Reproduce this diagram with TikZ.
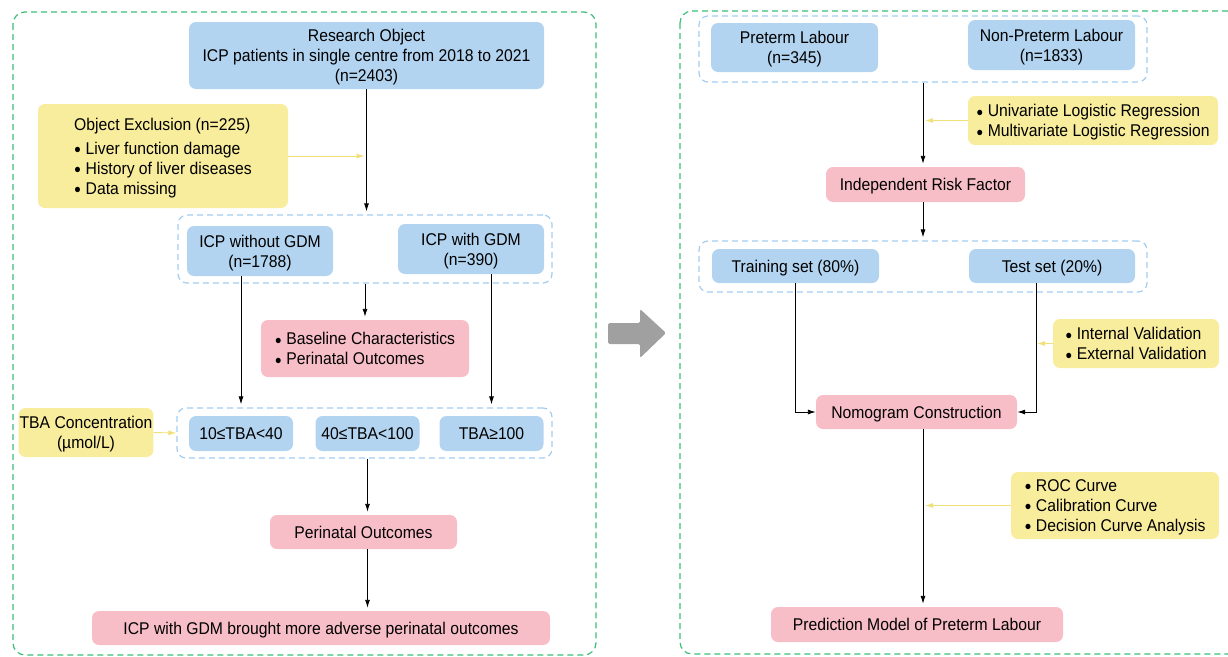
\documentclass[tikz,border=0pt]{standalone}
\usepackage{fontspec}
\setmainfont{Liberation Sans}[FakeStretch=0.925]
\usetikzlibrary{arrows.meta}

\definecolor{fillblue}{RGB}{178,212,240}
\definecolor{fillpink}{RGB}{248,190,200}
\definecolor{fillyellow}{RGB}{248,236,157}
\definecolor{framegreen}{RGB}{60,190,120}
\definecolor{groupblue}{RGB}{165,205,240}
\definecolor{notearrow}{RGB}{240,224,120}
\definecolor{bigarrow}{RGB}{160,160,160}

\newcommand{\itm}{\raisebox{0.5pt}{\fontsize{12.5}{12}\selectfont ●}\hspace{4.5pt}}

\begin{document}
\begin{tikzpicture}[x=1pt,y=-1pt,
  box/.style={rounded corners=7pt, inner sep=2pt, align=center, text=black,
    text depth=0pt, font=\fontsize{17}{20}\selectfont},
  bluebox/.style={box, fill=fillblue},
  pinkbox/.style={box, fill=fillpink},
  yellowbox/.style={box, fill=fillyellow},
  group/.style={draw=groupblue, line width=1.2pt, dash pattern=on 6pt off 4pt,
    rounded corners=9pt, inner sep=0pt},
  frame/.style={draw=framegreen, line width=1.2pt, dash pattern=on 6pt off 4pt,
    rounded corners=12pt},
  link/.style={-{Latex[length=8pt,width=5pt]}, line width=0.9pt, shorten >=3pt},
  note/.style={-{Latex[length=8pt,width=5pt]}, line width=0.9pt, draw=notearrow}]
\useasboundingbox (0,0) rectangle (1228,656);

\draw[frame] (13,12) rectangle (596,655);
\draw[frame] (680,11) rectangle (1240,654);
\fill[bigarrow, rounded corners=1.5pt] (608,323) -- (640,323) -- (640,309) -- (666,333)
  -- (640,358) -- (640,344) -- (608,344) -- cycle;

% left: ICP with / without GDM
\node[group, minimum width=374, minimum height=68] (grpa) at (365,249) {};
\node[group, minimum width=375, minimum height=50] (grpb) at (364.5,433) {};
\node[bluebox, minimum width=355, minimum height=67] (ro) at (366.5,55.5)
  {Research Object\\ICP patients in single centre from 2018 to 2021\\(n=2403)};
\node[yellowbox, minimum width=250, minimum height=104, align=left] (excl) at (163,156)
  {Object Exclusion (n=225)\\[4pt]\itm Liver function damage\\\itm History of liver diseases\\\itm Data missing};
\node[bluebox, minimum width=146, minimum height=50] (nogdm) at (260,251) {ICP without GDM\\(n=1788)};
\node[bluebox, minimum width=146, minimum height=50] (gdm) at (471,249) {ICP with GDM\\(n=390)};
\node[pinkbox, minimum width=208, minimum height=57, align=left] (base) at (365,348.5)
  {\itm Baseline Characteristics\\\itm Perinatal Outcomes};
\foreach \name/\x/\txt in {tbaa/241/10≤TBA<40, tbab/367.5/40≤TBA<100, tbac/491.5/TBA≥100}
  \node[bluebox, minimum width=104, minimum height=35] (\name) at (\x,433.5) {\txt};
\node[yellowbox, minimum width=134, minimum height=49, inner sep=1pt] (conc) at (86,432.5)
  {TBA Concentration\\(µmol/L)};
\node[pinkbox, minimum width=187, minimum height=34] (peri) at (363.5,532) {Perinatal Outcomes};
\node[pinkbox, minimum width=458, minimum height=34] (concl) at (321,628)
  {ICP with GDM brought more adverse perinatal outcomes};

\coordinate (exclend) at ([xshift=-2]ro.south |- excl.east);
\draw[link] (ro.south) -- (ro.south |- grpa.north);
\draw[note] (excl.east) -- (exclend);
\draw[link] (grpa.south) -- (base.north);
\draw[link] (tbaa.center |- nogdm.south) -- (tbaa.center |- grpb.north);
\draw[link] (tbac.center |- gdm.south) -- (tbac.center |- grpb.north);
\draw[note] (conc.east) -- (grpb.west);
\draw[link] (tbab.center |- grpb.south) -- (tbab.center |- peri.north);
\draw[link] (tbab.center |- peri.south) -- (tbab.center |- concl.north);

% right: preterm labour model
\node[group, minimum width=448, minimum height=66] (grpc) at (923,49) {};
\node[group, minimum width=448, minimum height=51] (grpd) at (923,266.5) {};
\node[bluebox, minimum width=167, minimum height=49] (pre) at (794.5,47.5) {Preterm Labour\\(n=345)};
\node[bluebox, minimum width=167, minimum height=50] (nonpre) at (1051.5,45) {Non-Preterm Labour\\(n=1833)};
\node[yellowbox, minimum width=250, minimum height=49, align=left] (logreg) at (1093,120.5)
  {\itm Univariate Logistic Regression\\\itm Multivariate Logistic Regression};
\node[pinkbox, minimum width=199, minimum height=35] (risk) at (925.5,184.5) {Independent Risk Factor};
\node[bluebox, minimum width=167, minimum height=34] (train) at (795.5,266) {Training set (80\%)};
\node[bluebox, minimum width=166, minimum height=34] (test) at (1052,266) {Test set (20\%)};
\node[yellowbox, minimum width=166, minimum height=49, align=left] (valid) at (1136,343.5)
  {\itm Internal Validation\\\itm External Validation};
\node[pinkbox, minimum width=201, minimum height=34] (nomo) at (916.5,412) {Nomogram Construction};
\node[yellowbox, minimum width=208, minimum height=67, align=left] (curves) at (1115,505.5)
  {\itm ROC Curve\\\itm Calibration Curve\\\itm Decision Curve Analysis};
\node[pinkbox, minimum width=292, minimum height=35] (pred) at (917,624.5) {Prediction Model of Preterm Labour};

\coordinate (testline) at ([xshift=-16]test.south);
\coordinate (logregend) at ([xshift=2]grpc.south |- logreg.west);
\coordinate (validend) at ([xshift=1]testline |- valid.west);
\coordinate (curvesend) at ([xshift=2]grpc.south |- curves.west);
\draw[link] (grpc.south) -- (grpc.south |- risk.north);
\draw[note] (logreg.west) -- (logregend);
\draw[link] (grpd.north |- risk.south) -- (grpd.north);
\draw[link, shorten >=0pt] (train.south) |- (nomo.west);
\draw[link, shorten >=0pt] (testline) |- (nomo.east);
\draw[note] (valid.west) -- (validend);
\draw[link] (grpd.south |- nomo.south) -- (grpd.south |- pred.north);
\draw[note] (curves.west) -- (curvesend);
\end{tikzpicture}
\end{document}
